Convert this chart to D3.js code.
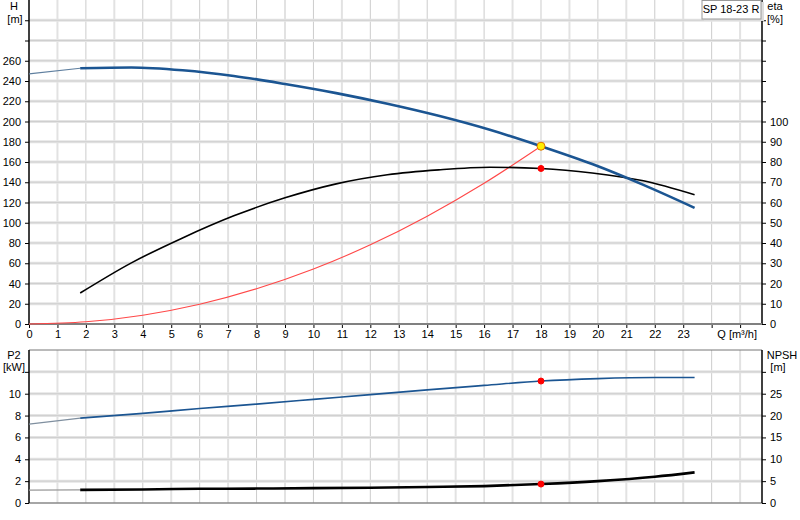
<!DOCTYPE html>
<html>
<head>
<meta charset="utf-8">
<script src="https://cdn.jsdelivr.net/npm/d3@7"></script>
<style>
  body { margin: 0; background: #fff; }
  text { font-family: "Liberation Sans", Arial, sans-serif; font-size: 11px; fill: #000; }
</style>
</head>
<body>
<script>
// Pump curve SP 18-23 R

// flow, m3/h
var qHead = [0, 1.8, 3.6, 5.4, 7.2, 9, 10.8, 12.6, 14.4, 16.2, 18, 19.8, 21.6, 23.4];
// head, m
var head = [247, 252.6, 253.4, 250.6, 245, 237, 228, 217.5, 205.6, 191.8, 175.6, 158, 137.4, 114.7];

var qEta = [1.8, 3.6, 5.4, 7.2, 9, 10.8, 12.6, 14.4, 16.2, 18, 19.8, 21.6, 23.4];
// efficiency, %
var eta = [15.3, 30.2, 42.5, 53.4, 62.3, 69.2, 73.7, 76.1, 77.4, 76.8, 74.6, 70.7, 63.8];

// system curve
var qSys = [0, 2, 4, 6, 8, 10, 12, 14, 16, 18];
var headSys = [0, 2.2, 8.7, 19.5, 34.8, 54.3, 78.2, 106.5, 139, 175.6];

var qLow = [0, 1.8, 4, 6, 8, 10, 12, 14, 16, 18, 20, 22, 23.4];
// power P2, kW
var p2 = [7.22, 7.77, 8.2, 8.65, 9.05, 9.48, 9.92, 10.35, 10.76, 11.16, 11.38, 11.48, 11.48];
// NPSH, m
var npsh = [2.95, 3.0, 3.1, 3.25, 3.3, 3.4, 3.5, 3.65, 3.87, 4.33, 5.0, 6.0, 7.0];

// duty point
var duty = { q: 18, head: 175.6, eta: 76.8, p2: 11.16, npsh: 4.33 };

var qTicks = d3.range(0, 26);
var headTicks = d3.range(0, 301, 20);
var etaTicks = d3.range(0, 151, 10);
var p2Ticks = d3.range(0, 13, 2);
var npshTicks = d3.range(0, 31, 5);

var svg = d3.select('body').append('svg')
  .attr('width', 800)
  .attr('height', 520);

var left = 29, right = 762;
var topY0 = 0, topY1 = 324;
var botY0 = 350, botY1 = 503;

var x = d3.scaleLinear().domain([0, 25.77]).range([left, right]);
var yH = d3.scaleLinear().domain([0, 320]).range([topY1, topY0]);
var yEta = d3.scaleLinear().domain([0, 160]).range([topY1, topY0]);
var yP = d3.scaleLinear().domain([0, 14]).range([botY1, botY0]);
var yN = d3.scaleLinear().domain([0, 35]).range([botY1, botY0]);

// grid
function vGrid(y0, y1) {
  svg.append('g').selectAll('line')
    .data(qTicks.filter(function(d) { return d > 0; }))
    .enter().append('line')
    .attr('x1', function(d) { return x(d); })
    .attr('x2', function(d) { return x(d); })
    .attr('y1', y0).attr('y2', y1)
    .attr('stroke', function(d) { return d % 2 ? '#e2e2e2' : '#cccccc'; })
    .attr('stroke-width', function(d) { return d % 2 ? 2 : 1; });
}
function hGrid(ticks, scale, color, w) {
  svg.append('g').selectAll('line')
    .data(ticks.filter(function(d) { return d > 0; }))
    .enter().append('line')
    .attr('x1', left).attr('x2', right)
    .attr('y1', function(d) { return scale(d); })
    .attr('y2', function(d) { return scale(d); })
    .attr('stroke', color)
    .attr('stroke-width', w);
}
vGrid(topY0, topY1);
vGrid(botY0, botY1);
hGrid(etaTicks, yEta, '#e4e4e4', 3);
hGrid(headTicks, yH, '#cfcfcf', 1);
hGrid(npshTicks, yN, '#e4e4e4', 3);
hGrid(p2Ticks, yP, '#cfcfcf', 1);

// frames
svg.append('line').attr('x1', left).attr('x2', right).attr('y1', botY0).attr('y2', botY0).attr('stroke', '#777');
svg.append('line').attr('x1', left).attr('x2', right).attr('y1', botY1).attr('y2', botY1).attr('stroke', '#888').attr('stroke-width', 1.5);
[[topY0, topY1], [botY0, botY1]].forEach(function(r) {
  svg.append('line').attr('x1', left).attr('x2', left).attr('y1', r[0]).attr('y2', r[1]).attr('stroke', '#000').attr('stroke-width', 1.5);
  svg.append('line').attr('x1', right).attr('x2', right).attr('y1', r[0]).attr('y2', r[1]).attr('stroke', '#000').attr('stroke-width', 1.5);
});

// axes
function styleAxis(g) {
  g.select('.domain').remove();
  g.selectAll('.tick line').attr('stroke', '#000');
  g.selectAll('.tick text').style('font-size', '11px');
}
svg.append('g')
  .attr('transform', 'translate(' + left + ',0)')
  .call(d3.axisLeft(yH).tickValues(headTicks).tickSize(4).tickPadding(4)
    .tickFormat(function(d) { return d <= 260 ? d : ''; }))
  .call(styleAxis);
svg.append('g')
  .attr('transform', 'translate(' + right + ',0)')
  .call(d3.axisRight(yEta).tickValues(etaTicks).tickSize(4).tickPadding(4)
    .tickFormat(function(d) { return d <= 100 ? d : ''; }))
  .call(styleAxis);
svg.append('g')
  .attr('transform', 'translate(' + left + ',0)')
  .call(d3.axisLeft(yP).tickValues(p2Ticks).tickSize(4).tickPadding(4)
    .tickFormat(function(d) { return d <= 10 ? d : ''; }))
  .call(styleAxis);
svg.append('g')
  .attr('transform', 'translate(' + right + ',0)')
  .call(d3.axisRight(yN).tickValues(npshTicks).tickSize(4).tickPadding(4)
    .tickFormat(function(d) { return d <= 25 ? d : ''; }))
  .call(styleAxis);
svg.append('g')
  .attr('transform', 'translate(0,' + topY1 + ')')
  .call(d3.axisBottom(x).tickValues(qTicks).tickSize(4).tickPadding(2)
    .tickFormat(function(d) { return d <= 23 ? d : ''; }))
  .call(styleAxis);
svg.append('line').attr('x1', left).attr('x2', right).attr('y1', topY1).attr('y2', topY1)
  .attr('stroke', '#808080').attr('stroke-width', 2);

// axis titles
function label(txt, xx, yy, anchor) {
  svg.append('text').attr('x', xx).attr('y', yy).attr('text-anchor', anchor || 'middle').text(txt);
}
label('H', 14, 10);
label('[m]', 15, 23);
label('eta', 775, 10);
label('[%]', 775, 23);
label('P2', 14, 359);
label('[kW]', 14, 371);
label('NPSH', 782, 359);
label('[m]', 778, 371);
label('Q [m\u00b3/h]', 757, 338, 'end');

// model box
svg.append('rect').attr('x', 704).attr('y', 2).attr('width', 60).attr('height', 19).attr('fill', '#ddd');
svg.append('rect').attr('x', 702).attr('y', 0.5).attr('width', 59).attr('height', 18.5)
  .attr('fill', '#fff').attr('stroke', '#999');
label('SP 18-23 R', 731, 13);

// curves
function drawCurve(qs, vs, scale, color, width, fromIdx) {
  var line = d3.line()
    .x(function(d) { return x(d[0]); })
    .y(function(d) { return scale(d[1]); })
    .curve(d3.curveMonotoneX);
  var pts = qs.map(function(q, i) { return [q, vs[i]]; });
  svg.append('path')
    .datum(pts.slice(fromIdx))
    .attr('d', line)
    .attr('fill', 'none')
    .attr('stroke', color)
    .attr('stroke-width', width)
    .attr('stroke-linejoin', 'round');
  return pts;
}

// thin grey part outside the working range
function drawLead(qs, vs, scale, color) {
  svg.append('line')
    .attr('x1', x(qs[0])).attr('y1', scale(vs[0]))
    .attr('x2', x(qs[1])).attr('y2', scale(vs[1]))
    .attr('stroke', color).attr('stroke-width', 1.2);
}

drawCurve(qSys, headSys, yH, '#ff4848', 1.1, 0);
drawCurve(qEta, eta, yEta, '#000', 1.6, 0);
drawLead(qHead, head, yH, '#5f7f9f');
drawCurve(qHead, head, yH, '#1b5592', 2.6, 1);
drawLead(qLow, p2, yP, '#7f8f9f');
drawCurve(qLow, p2, yP, '#1b5592', 1.6, 1);
drawLead(qLow, npsh, yN, '#999');
drawCurve(qLow, npsh, yN, '#000', 2.6, 1);

// duty point markers
function dot(cx, cy, fill, stroke, r) {
  svg.append('circle').attr('cx', cx).attr('cy', cy).attr('r', r)
    .attr('fill', fill).attr('stroke', stroke).attr('stroke-width', 1);
}
dot(x(duty.q), yEta(duty.eta), '#ff0000', '#ff0000', 3);
dot(x(duty.q), yP(duty.p2), '#ff0000', '#ff0000', 3);
dot(x(duty.q), yN(duty.npsh), '#ff0000', '#ff0000', 3);
dot(x(duty.q), yH(duty.head), '#ffee00', '#e07000', 4);
</script>
</body>
</html>
